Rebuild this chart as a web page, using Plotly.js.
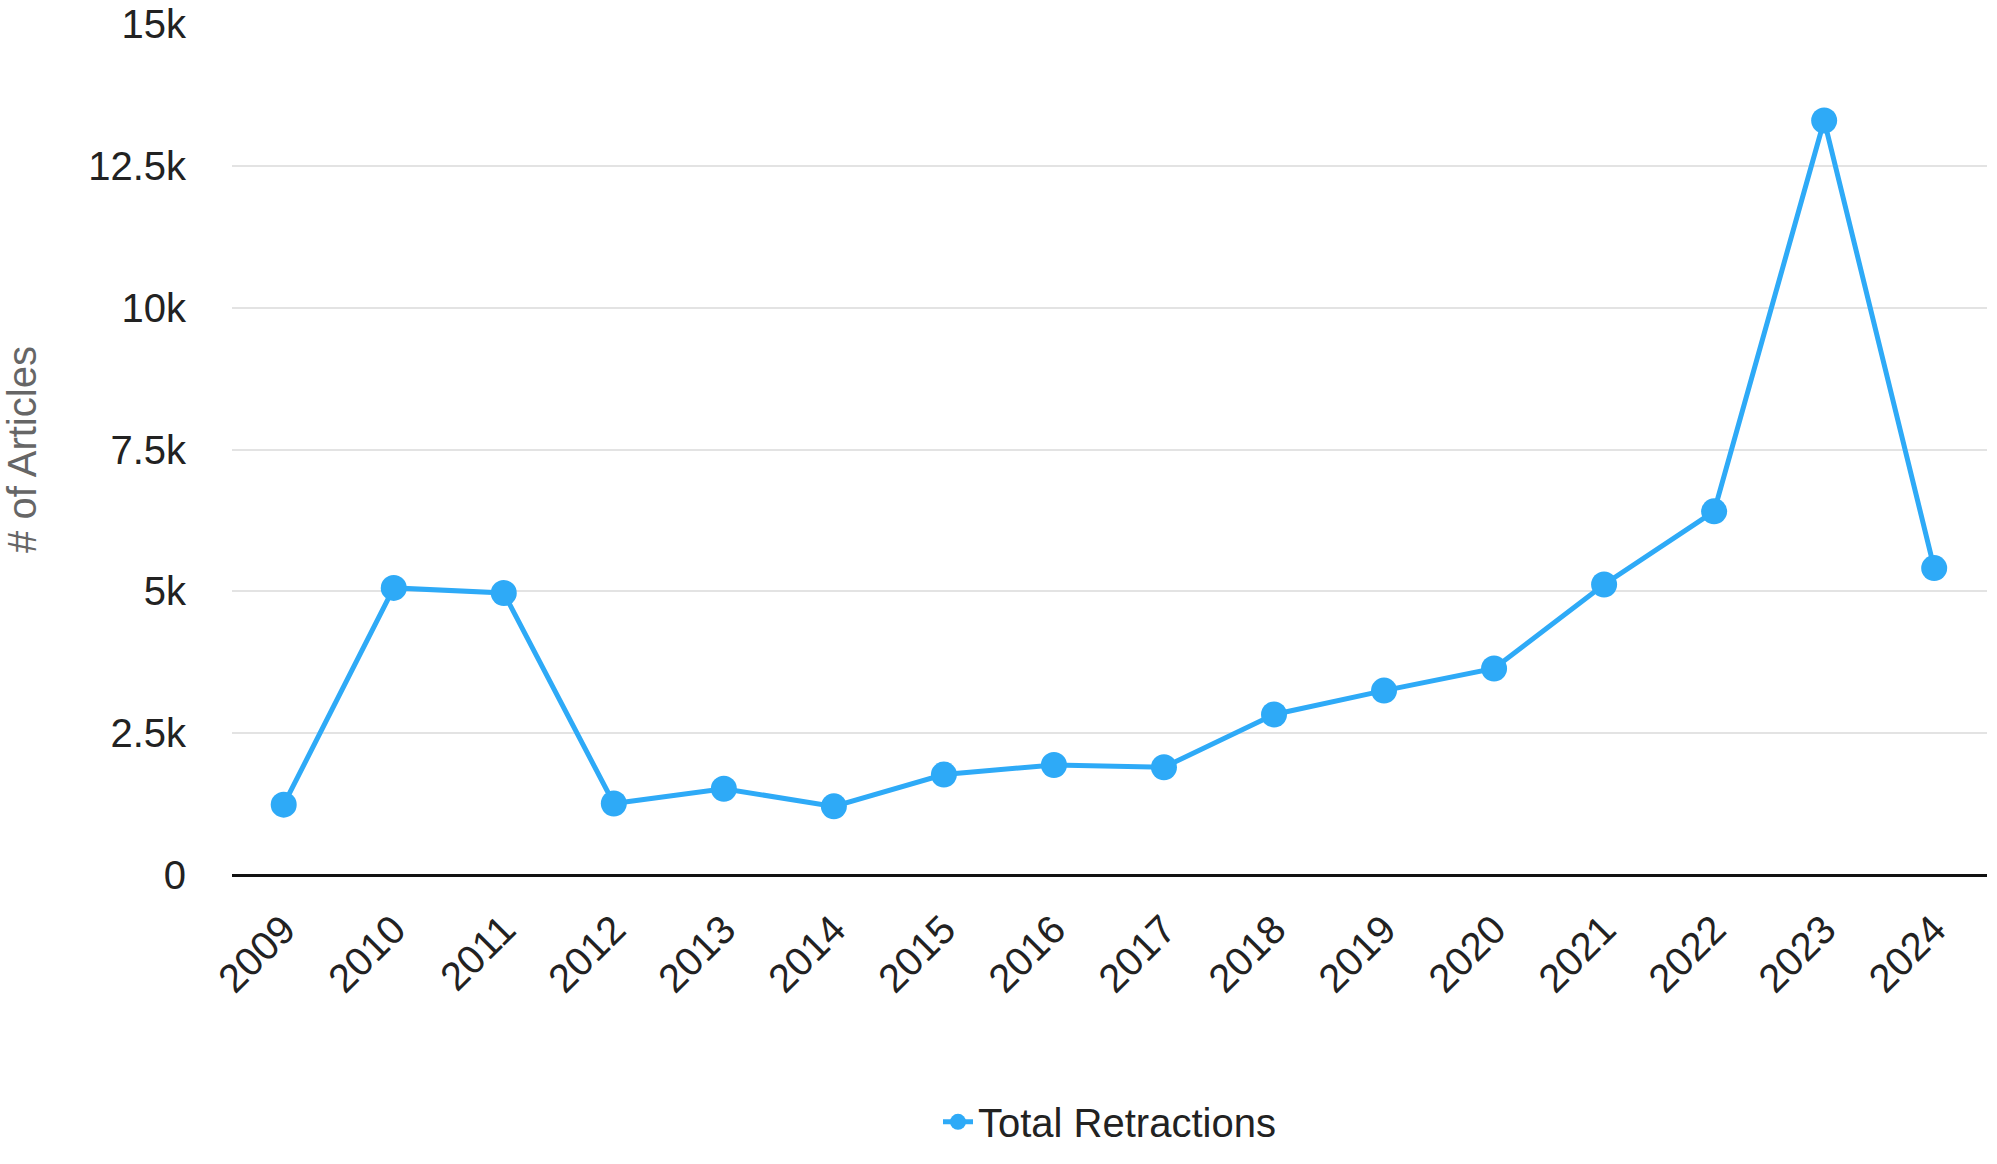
<!DOCTYPE html>
<html>
<head>
<meta charset="utf-8">
<script src="https://cdn.plot.ly/plotly-3.0.1.min.js"></script>
<style>html,body{margin:0;padding:0;background:#fff}#chart{width:1997px;height:1164px}</style>
</head>
<body>
<div id="chart"></div>
<script>
const years = ['2009', '2010', '2011', '2012', '2013', '2014', '2015', '2016',
  '2017', '2018', '2019', '2020', '2021', '2022', '2023', '2024'];
const retractions = [1240, 5060, 4970, 1260, 1520, 1210, 1770, 1940,
  1900, 2830, 3250, 3640, 5120, 6410, 13300, 5410];
const yTicks = [0, 2500, 5000, 7500, 10000, 12500, 15000];
const yTickText = ['0', '2.5k', '5k', '7.5k', '10k', '12.5k', '15k'];

const blue = '#2eaaf7';

Plotly.newPlot('chart', [{
  x: years,
  y: retractions,
  type: 'scatter',
  mode: 'lines+markers',
  name: 'Total Retractions',
  line: {color: blue, width: 5},
  marker: {color: blue, size: 26}
}], {
  width: 1997,
  height: 1164,
  margin: {l: 232, r: 10, t: 24, b: 271},
  paper_bgcolor: '#fff',
  plot_bgcolor: '#fff',
  font: {family: 'Liberation Sans, Arial, sans-serif', size: 38, color: '#222'},
  showlegend: true,
  legend: {orientation: 'h', x: 0.5, xanchor: 'center', y: -0.29, yanchor: 'middle',
    font: {size: 40, color: '#222'}},
  xaxis: {
    type: 'category',
    range: [-0.47, 15.48],
    tickangle: -45,
    automargin: false,
    showgrid: false,
    showline: false,
    zeroline: false,
    ticks: 'outside',
    ticklen: 14,
    tickcolor: 'rgba(0,0,0,0)',
    tickfont: {size: 40, color: '#222'}
  },
  yaxis: {
    title: {text: '# of Articles', font: {size: 40, color: '#666'}, standoff: 60},
    range: [0, 15000],
    automargin: false,
    tickvals: yTicks,
    ticktext: yTickText,
    gridcolor: '#e3e3e3',
    gridwidth: 2,
    zeroline: true,
    zerolinecolor: '#111',
    zerolinewidth: 3,
    ticks: '',
    ticklabelstandoff: 45,
    tickfont: {size: 40, color: '#222'}
  }
}, {displayModeBar: false});
</script>
</body>
</html>
